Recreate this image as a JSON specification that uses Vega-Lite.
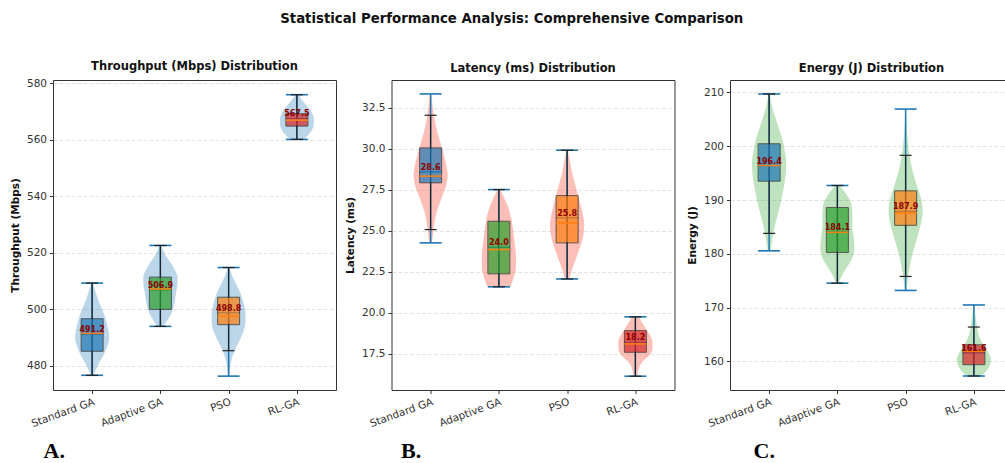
{
  "$schema": "https://vega.github.io/schema/vega-lite/v6.json",
  "background": "white",
  "padding": {"left": 9, "top": 11, "right": 0, "bottom": 14},
  "title": {"text": "Statistical Performance Analysis: Comprehensive Comparison", "fontSize": 13.3, "fontWeight": "bold", "font": "DejaVu Sans", "color": "#111", "offset": 35, "anchor": "middle"},
  "spacing": 55.5,
  "bounds": "flush",
  "datasets": {
    "tpV": [
      {"g":1,"v":476.7,"w":0.02},{"g":1,"v":479,"w":0.06},{"g":1,"v":481,"w":0.1},{"g":1,"v":483,"w":0.15},{"g":1,"v":485,"w":0.19},{"g":1,"v":487.5,"w":0.23},{"g":1,"v":490,"w":0.25},{"g":1,"v":492.5,"w":0.24},{"g":1,"v":495,"w":0.215},{"g":1,"v":498,"w":0.18},{"g":1,"v":501,"w":0.13},{"g":1,"v":504,"w":0.08},{"g":1,"v":507,"w":0.04},{"g":1,"v":509.3,"w":0.01},
      {"g":2,"v":494,"w":0.04},{"g":2,"v":496,"w":0.1},{"g":2,"v":498,"w":0.15},{"g":2,"v":500.5,"w":0.19},{"g":2,"v":503,"w":0.21},{"g":2,"v":506,"w":0.23},{"g":2,"v":509,"w":0.25},{"g":2,"v":511.5,"w":0.25},{"g":2,"v":514,"w":0.21},{"g":2,"v":516.5,"w":0.15},{"g":2,"v":519,"w":0.08},{"g":2,"v":521,"w":0.04},{"g":2,"v":522.6,"w":0.01},
      {"g":3,"v":476.4,"w":0.01},{"g":3,"v":479,"w":0.02},{"g":3,"v":482,"w":0.04},{"g":3,"v":485,"w":0.08},{"g":3,"v":488,"w":0.14},{"g":3,"v":491,"w":0.2},{"g":3,"v":494,"w":0.24},{"g":3,"v":497,"w":0.25},{"g":3,"v":500,"w":0.24},{"g":3,"v":503,"w":0.21},{"g":3,"v":506,"w":0.17},{"g":3,"v":509,"w":0.11},{"g":3,"v":512,"w":0.05},{"g":3,"v":514.8,"w":0.01},
      {"g":4,"v":560.1,"w":0.1},{"g":4,"v":561.5,"w":0.16},{"g":4,"v":563,"w":0.21},{"g":4,"v":565,"w":0.245},{"g":4,"v":567,"w":0.25},{"g":4,"v":569,"w":0.23},{"g":4,"v":571,"w":0.18},{"g":4,"v":573,"w":0.11},{"g":4,"v":574.5,"w":0.06},{"g":4,"v":575.9,"w":0.03}
    ],
    "tpS": [
      {"g":1,"name":"Standard GA","vmin":476.7,"vmax":509.3,"wlo":476.7,"whi":509.3,"q1":485.2,"q3":496.7,"med":491.5,"mean":491.2},
      {"g":2,"name":"Adaptive GA","vmin":494.0,"vmax":522.6,"wlo":494.0,"whi":522.6,"q1":500.0,"q3":511.4,"med":507.2,"mean":506.9},
      {"g":3,"name":"PSO","vmin":476.4,"vmax":514.8,"wlo":485.4,"whi":514.8,"q1":494.6,"q3":504.3,"med":497.6,"mean":498.8},
      {"g":4,"name":"RL-GA","vmin":560.1,"vmax":575.9,"wlo":560.1,"whi":575.9,"q1":564.8,"q3":569.2,"med":566.9,"mean":567.5}
    ],
    "latV": [
      {"g":1,"v":24.27,"w":0.02},{"g":1,"v":25,"w":0.04},{"g":1,"v":26,"w":0.08},{"g":1,"v":27,"w":0.16},{"g":1,"v":27.8,"w":0.23},{"g":1,"v":28.4,"w":0.25},{"g":1,"v":29,"w":0.23},{"g":1,"v":30,"w":0.17},{"g":1,"v":31,"w":0.1},{"g":1,"v":32,"w":0.05},{"g":1,"v":33.35,"w":0.01},
      {"g":2,"v":21.59,"w":0.17},{"g":2,"v":22.2,"w":0.22},{"g":2,"v":22.8,"w":0.25},{"g":2,"v":23.5,"w":0.25},{"g":2,"v":24.3,"w":0.23},{"g":2,"v":25,"w":0.21},{"g":2,"v":25.8,"w":0.18},{"g":2,"v":26.4,"w":0.14},{"g":2,"v":27,"w":0.08},{"g":2,"v":27.52,"w":0.02},
      {"g":3,"v":22.07,"w":0.03},{"g":3,"v":22.5,"w":0.06},{"g":3,"v":23.2,"w":0.12},{"g":3,"v":24,"w":0.19},{"g":3,"v":24.8,"w":0.24},{"g":3,"v":25.4,"w":0.25},{"g":3,"v":26.2,"w":0.22},{"g":3,"v":27,"w":0.17},{"g":3,"v":27.8,"w":0.12},{"g":3,"v":28.6,"w":0.07},{"g":3,"v":29.3,"w":0.04},{"g":3,"v":29.92,"w":0.01},
      {"g":4,"v":16.14,"w":0.03},{"g":4,"v":16.6,"w":0.05},{"g":4,"v":17,"w":0.1},{"g":4,"v":17.4,"w":0.2},{"g":4,"v":17.8,"w":0.25},{"g":4,"v":18.2,"w":0.25},{"g":4,"v":18.6,"w":0.22},{"g":4,"v":19,"w":0.16},{"g":4,"v":19.4,"w":0.1},{"g":4,"v":19.76,"w":0.05}
    ],
    "latS": [
      {"g":1,"name":"Standard GA","vmin":24.27,"vmax":33.35,"wlo":25.08,"whi":32.05,"q1":27.93,"q3":30.06,"med":28.34,"mean":28.6},
      {"g":2,"name":"Adaptive GA","vmin":21.59,"vmax":27.52,"wlo":21.59,"whi":27.52,"q1":22.38,"q3":25.59,"med":23.86,"mean":24.0},
      {"g":3,"name":"PSO","vmin":22.07,"vmax":29.92,"wlo":22.07,"whi":29.92,"q1":24.27,"q3":27.15,"med":25.49,"mean":25.8},
      {"g":4,"name":"RL-GA","vmin":16.14,"vmax":19.76,"wlo":16.14,"whi":19.76,"q1":17.6,"q3":18.92,"med":18.11,"mean":18.2}
    ],
    "enV": [
      {"g":1,"v":180.56,"w":0.02},{"g":1,"v":183,"w":0.05},{"g":1,"v":186,"w":0.1},{"g":1,"v":189,"w":0.16},{"g":1,"v":192,"w":0.21},{"g":1,"v":195,"w":0.245},{"g":1,"v":197,"w":0.25},{"g":1,"v":199,"w":0.23},{"g":1,"v":201,"w":0.2},{"g":1,"v":203,"w":0.15},{"g":1,"v":205,"w":0.1},{"g":1,"v":207,"w":0.05},{"g":1,"v":209.7,"w":0.01},
      {"g":2,"v":174.55,"w":0.02},{"g":2,"v":176,"w":0.07},{"g":2,"v":177.5,"w":0.14},{"g":2,"v":179,"w":0.21},{"g":2,"v":181,"w":0.25},{"g":2,"v":183,"w":0.24},{"g":2,"v":185,"w":0.22},{"g":2,"v":187,"w":0.22},{"g":2,"v":189,"w":0.21},{"g":2,"v":190.5,"w":0.16},{"g":2,"v":191.8,"w":0.09},{"g":2,"v":192.7,"w":0.03},
      {"g":3,"v":173.2,"w":0.01},{"g":3,"v":175,"w":0.03},{"g":3,"v":177.5,"w":0.06},{"g":3,"v":180,"w":0.1},{"g":3,"v":183,"w":0.17},{"g":3,"v":186,"w":0.23},{"g":3,"v":188,"w":0.25},{"g":3,"v":190,"w":0.23},{"g":3,"v":192.5,"w":0.17},{"g":3,"v":195,"w":0.11},{"g":3,"v":198,"w":0.06},{"g":3,"v":201,"w":0.03},{"g":3,"v":204,"w":0.015},{"g":3,"v":206.9,"w":0.005},
      {"g":4,"v":157.3,"w":0.1},{"g":4,"v":158.2,"w":0.18},{"g":4,"v":159.2,"w":0.23},{"g":4,"v":160.3,"w":0.25},{"g":4,"v":161.5,"w":0.22},{"g":4,"v":162.7,"w":0.16},{"g":4,"v":164,"w":0.1},{"g":4,"v":165.5,"w":0.06},{"g":4,"v":167,"w":0.04},{"g":4,"v":168.8,"w":0.02},{"g":4,"v":170.5,"w":0.01}
    ],
    "enS": [
      {"g":1,"name":"Standard GA","vmin":180.56,"vmax":209.7,"wlo":183.8,"whi":209.7,"q1":193.5,"q3":200.45,"med":196.4,"mean":196.4},
      {"g":2,"name":"Adaptive GA","vmin":174.55,"vmax":192.7,"wlo":174.55,"whi":192.7,"q1":180.26,"q3":188.6,"med":184.0,"mean":184.1},
      {"g":3,"name":"PSO","vmin":173.2,"vmax":206.9,"wlo":175.8,"whi":198.3,"q1":185.3,"q3":191.7,"med":187.56,"mean":187.9},
      {"g":4,"name":"RL-GA","vmin":157.3,"vmax":170.5,"wlo":157.3,"whi":166.4,"q1":159.4,"q3":163.1,"med":161.9,"mean":161.6}
    ]
  },
  "hconcat": [
    {
      "width": 283, "height": 310,
      "title": {"text": "Throughput (Mbps) Distribution"},
      "layer": [
        {"data": {"name": "tpV"},
         "transform": [{"calculate": "datum.g - datum.w", "as": "lo"}, {"calculate": "datum.g + datum.w", "as": "hi"}],
         "mark": {"type": "area", "orient": "horizontal", "color": "#1f77b4", "opacity": 0.3, "interpolate": "monotone"},
         "encoding": {
           "y": {"field": "v", "type": "quantitative", "scale": {"domain": [471.5, 581.1], "nice": false, "zero": false}, "axis": {"values": [480,500,520,540,560,580], "title": "Throughput (Mbps)"}},
           "x": {"field": "lo", "type": "quantitative", "scale": {"domain": [0.5, 4.5], "nice": false, "zero": false}, "axis": {"values": [1,2,3,4], "labelExpr": "datum.value == 1 ? 'Standard GA' : datum.value == 2 ? 'Adaptive GA' : datum.value == 3 ? 'PSO' : 'RL-GA'", "title": "A.", "titleX": -10}},
           "x2": {"field": "hi"},
           "detail": {"field": "g", "type": "nominal"}
         }},
        {"data": {"name": "tpS"}, "mark": {"type": "rule", "color": "#1f77b4", "strokeWidth": 1.5},
         "encoding": {"x": {"field": "g", "type": "quantitative"}, "y": {"field": "vmin", "type": "quantitative"}, "y2": {"field": "vmax"}}},
        {"data": {"name": "tpS"}, "mark": {"type": "tick", "orient": "horizontal", "color": "#1f77b4", "size": 22, "thickness": 1.6, "opacity": 1},
         "encoding": {"x": {"field": "g", "type": "quantitative"}, "y": {"field": "vmin", "type": "quantitative"}}},
        {"data": {"name": "tpS"}, "mark": {"type": "tick", "orient": "horizontal", "color": "#1f77b4", "size": 22, "thickness": 1.6, "opacity": 1},
         "encoding": {"x": {"field": "g", "type": "quantitative"}, "y": {"field": "vmax", "type": "quantitative"}}},
        {"data": {"name": "tpS"}, "mark": {"type": "tick", "orient": "horizontal", "color": "#1f77b4", "size": 22, "thickness": 1.4, "opacity": 1},
         "encoding": {"x": {"field": "g", "type": "quantitative"}, "y": {"field": "mean", "type": "quantitative"}}},
        {"data": {"name": "tpS"}, "mark": {"type": "rule", "color": "#222", "strokeWidth": 1.2},
         "encoding": {"x": {"field": "g", "type": "quantitative"}, "y": {"field": "wlo", "type": "quantitative"}, "y2": {"field": "whi"}}},
        {"data": {"name": "tpS"}, "mark": {"type": "tick", "orient": "horizontal", "color": "#222", "size": 12, "thickness": 1.2, "opacity": 1},
         "encoding": {"x": {"field": "g", "type": "quantitative"}, "y": {"field": "wlo", "type": "quantitative"}}},
        {"data": {"name": "tpS"}, "mark": {"type": "tick", "orient": "horizontal", "color": "#222", "size": 12, "thickness": 1.2, "opacity": 1},
         "encoding": {"x": {"field": "g", "type": "quantitative"}, "y": {"field": "whi", "type": "quantitative"}}},
        {"data": {"name": "tpS"}, "mark": {"type": "bar", "width": 22, "opacity": 0.7, "stroke": "#222", "strokeWidth": 1},
         "encoding": {"x": {"field": "g", "type": "quantitative"}, "y": {"field": "q1", "type": "quantitative"}, "y2": {"field": "q3"},
           "color": {"field": "name", "type": "nominal", "scale": {"domain": ["Standard GA","Adaptive GA","PSO","RL-GA"], "range": ["#1f77b4","#2ca02c","#ff7f0e","#d62728"]}, "legend": null}}},
        {"data": {"name": "tpS"}, "mark": {"type": "tick", "orient": "horizontal", "color": "#ff7f0e", "size": 22, "thickness": 1.5, "opacity": 1},
         "encoding": {"x": {"field": "g", "type": "quantitative"}, "y": {"field": "med", "type": "quantitative"}}},
        {"data": {"name": "tpS"}, "mark": {"type": "text", "color": "#8b0000", "fontSize": 8, "fontWeight": "bold", "baseline": "bottom", "align": "center"},
         "encoding": {"x": {"field": "g", "type": "quantitative"}, "y": {"field": "mean", "type": "quantitative"}, "text": {"field": "mean", "type": "quantitative", "format": ".1f"}}}
      ]
    },
    {
      "width": 283, "height": 310,
      "title": {"text": "Latency (ms) Distribution"},
      "layer": [
        {"data": {"name": "latV"},
         "transform": [{"calculate": "datum.g - datum.w", "as": "lo"}, {"calculate": "datum.g + datum.w", "as": "hi"}],
         "mark": {"type": "area", "orient": "horizontal", "color": "#fa8072", "opacity": 0.5, "interpolate": "monotone"},
         "encoding": {
           "y": {"field": "v", "type": "quantitative", "scale": {"domain": [15.3, 34.2], "nice": false, "zero": false}, "axis": {"values": [17.5,20,22.5,25,27.5,30,32.5], "format": ".1f", "title": "Latency (ms)"}},
           "x": {"field": "lo", "type": "quantitative", "scale": {"domain": [0.5, 4.5], "nice": false, "zero": false}, "axis": {"values": [1,2,3,4], "labelExpr": "datum.value == 1 ? 'Standard GA' : datum.value == 2 ? 'Adaptive GA' : datum.value == 3 ? 'PSO' : 'RL-GA'", "title": "B.", "titleX": 9}},
           "x2": {"field": "hi"},
           "detail": {"field": "g", "type": "nominal"}
         }},
        {"data": {"name": "latS"}, "mark": {"type": "rule", "color": "#1f77b4", "strokeWidth": 1.5},
         "encoding": {"x": {"field": "g", "type": "quantitative"}, "y": {"field": "vmin", "type": "quantitative"}, "y2": {"field": "vmax"}}},
        {"data": {"name": "latS"}, "mark": {"type": "tick", "orient": "horizontal", "color": "#1f77b4", "size": 22, "thickness": 1.6, "opacity": 1},
         "encoding": {"x": {"field": "g", "type": "quantitative"}, "y": {"field": "vmin", "type": "quantitative"}}},
        {"data": {"name": "latS"}, "mark": {"type": "tick", "orient": "horizontal", "color": "#1f77b4", "size": 22, "thickness": 1.6, "opacity": 1},
         "encoding": {"x": {"field": "g", "type": "quantitative"}, "y": {"field": "vmax", "type": "quantitative"}}},
        {"data": {"name": "latS"}, "mark": {"type": "tick", "orient": "horizontal", "color": "#1f77b4", "size": 22, "thickness": 1.4, "opacity": 1},
         "encoding": {"x": {"field": "g", "type": "quantitative"}, "y": {"field": "mean", "type": "quantitative"}}},
        {"data": {"name": "latS"}, "mark": {"type": "rule", "color": "#222", "strokeWidth": 1.2},
         "encoding": {"x": {"field": "g", "type": "quantitative"}, "y": {"field": "wlo", "type": "quantitative"}, "y2": {"field": "whi"}}},
        {"data": {"name": "latS"}, "mark": {"type": "tick", "orient": "horizontal", "color": "#222", "size": 12, "thickness": 1.2, "opacity": 1},
         "encoding": {"x": {"field": "g", "type": "quantitative"}, "y": {"field": "wlo", "type": "quantitative"}}},
        {"data": {"name": "latS"}, "mark": {"type": "tick", "orient": "horizontal", "color": "#222", "size": 12, "thickness": 1.2, "opacity": 1},
         "encoding": {"x": {"field": "g", "type": "quantitative"}, "y": {"field": "whi", "type": "quantitative"}}},
        {"data": {"name": "latS"}, "mark": {"type": "bar", "width": 22, "opacity": 0.7, "stroke": "#222", "strokeWidth": 1},
         "encoding": {"x": {"field": "g", "type": "quantitative"}, "y": {"field": "q1", "type": "quantitative"}, "y2": {"field": "q3"},
           "color": {"field": "name", "type": "nominal", "scale": {"domain": ["Standard GA","Adaptive GA","PSO","RL-GA"], "range": ["#1f77b4","#2ca02c","#ff7f0e","#d62728"]}, "legend": null}}},
        {"data": {"name": "latS"}, "mark": {"type": "tick", "orient": "horizontal", "color": "#ff7f0e", "size": 22, "thickness": 1.5, "opacity": 1},
         "encoding": {"x": {"field": "g", "type": "quantitative"}, "y": {"field": "med", "type": "quantitative"}}},
        {"data": {"name": "latS"}, "mark": {"type": "text", "color": "#8b0000", "fontSize": 8, "fontWeight": "bold", "baseline": "bottom", "align": "center"},
         "encoding": {"x": {"field": "g", "type": "quantitative"}, "y": {"field": "mean", "type": "quantitative"}, "text": {"field": "mean", "type": "quantitative", "format": ".1f"}}}
      ]
    },
    {
      "width": 283, "height": 310,
      "title": {"text": "Energy (J) Distribution"},
      "layer": [
        {"data": {"name": "enV"},
         "transform": [{"calculate": "datum.g - datum.w", "as": "lo"}, {"calculate": "datum.g + datum.w", "as": "hi"}],
         "mark": {"type": "area", "orient": "horizontal", "color": "#2ca02c", "opacity": 0.3, "interpolate": "monotone"},
         "encoding": {
           "y": {"field": "v", "type": "quantitative", "scale": {"domain": [154.7, 212.3], "nice": false, "zero": false}, "axis": {"values": [160,170,180,190,200,210], "title": "Energy (J)"}},
           "x": {"field": "lo", "type": "quantitative", "scale": {"domain": [0.5, 4.5], "nice": false, "zero": false}, "axis": {"values": [1,2,3,4], "labelExpr": "datum.value == 1 ? 'Standard GA' : datum.value == 2 ? 'Adaptive GA' : datum.value == 3 ? 'PSO' : 'RL-GA'", "title": "C.", "titleX": 23}},
           "x2": {"field": "hi"},
           "detail": {"field": "g", "type": "nominal"}
         }},
        {"data": {"name": "enS"}, "mark": {"type": "rule", "color": "#1f77b4", "strokeWidth": 1.5},
         "encoding": {"x": {"field": "g", "type": "quantitative"}, "y": {"field": "vmin", "type": "quantitative"}, "y2": {"field": "vmax"}}},
        {"data": {"name": "enS"}, "mark": {"type": "tick", "orient": "horizontal", "color": "#1f77b4", "size": 22, "thickness": 1.6, "opacity": 1},
         "encoding": {"x": {"field": "g", "type": "quantitative"}, "y": {"field": "vmin", "type": "quantitative"}}},
        {"data": {"name": "enS"}, "mark": {"type": "tick", "orient": "horizontal", "color": "#1f77b4", "size": 22, "thickness": 1.6, "opacity": 1},
         "encoding": {"x": {"field": "g", "type": "quantitative"}, "y": {"field": "vmax", "type": "quantitative"}}},
        {"data": {"name": "enS"}, "mark": {"type": "tick", "orient": "horizontal", "color": "#1f77b4", "size": 22, "thickness": 1.4, "opacity": 1},
         "encoding": {"x": {"field": "g", "type": "quantitative"}, "y": {"field": "mean", "type": "quantitative"}}},
        {"data": {"name": "enS"}, "mark": {"type": "rule", "color": "#222", "strokeWidth": 1.2},
         "encoding": {"x": {"field": "g", "type": "quantitative"}, "y": {"field": "wlo", "type": "quantitative"}, "y2": {"field": "whi"}}},
        {"data": {"name": "enS"}, "mark": {"type": "tick", "orient": "horizontal", "color": "#222", "size": 12, "thickness": 1.2, "opacity": 1},
         "encoding": {"x": {"field": "g", "type": "quantitative"}, "y": {"field": "wlo", "type": "quantitative"}}},
        {"data": {"name": "enS"}, "mark": {"type": "tick", "orient": "horizontal", "color": "#222", "size": 12, "thickness": 1.2, "opacity": 1},
         "encoding": {"x": {"field": "g", "type": "quantitative"}, "y": {"field": "whi", "type": "quantitative"}}},
        {"data": {"name": "enS"}, "mark": {"type": "bar", "width": 22, "opacity": 0.7, "stroke": "#222", "strokeWidth": 1},
         "encoding": {"x": {"field": "g", "type": "quantitative"}, "y": {"field": "q1", "type": "quantitative"}, "y2": {"field": "q3"},
           "color": {"field": "name", "type": "nominal", "scale": {"domain": ["Standard GA","Adaptive GA","PSO","RL-GA"], "range": ["#1f77b4","#2ca02c","#ff7f0e","#d62728"]}, "legend": null}}},
        {"data": {"name": "enS"}, "mark": {"type": "tick", "orient": "horizontal", "color": "#ff7f0e", "size": 22, "thickness": 1.5, "opacity": 1},
         "encoding": {"x": {"field": "g", "type": "quantitative"}, "y": {"field": "med", "type": "quantitative"}}},
        {"data": {"name": "enS"}, "mark": {"type": "text", "color": "#8b0000", "fontSize": 8, "fontWeight": "bold", "baseline": "bottom", "align": "center"},
         "encoding": {"x": {"field": "g", "type": "quantitative"}, "y": {"field": "mean", "type": "quantitative"}, "text": {"field": "mean", "type": "quantitative", "format": ".1f"}}}
      ]
    }
  ],
  "config": {
    "font": "DejaVu Sans",
    "view": {"stroke": "#333", "strokeWidth": 1},
    "title": {"font": "DejaVu Sans", "fontSize": 11.5, "fontWeight": "bold", "color": "#111", "offset": 6},
    "axis": {"labelFont": "DejaVu Sans", "labelFontSize": 10.5, "labelColor": "#333", "titleFont": "DejaVu Sans", "titleFontSize": 10.5, "titleFontWeight": "bold", "titleColor": "#111", "tickColor": "#333", "tickSize": 3.5, "domain": false, "grid": false},
    "axisY": {"grid": true, "gridDash": [4, 2], "gridColor": "#b0b0b0", "gridOpacity": 0.35, "titlePadding": 6, "labelPadding": 3},
    "axisX": {"labelAngle": -20, "labelAlign": "right", "labelBaseline": "top", "labelPadding": 3, "titleFont": "Liberation Serif", "titleFontSize": 22, "titleFontWeight": "bold", "titleColor": "#000", "titleAnchor": "start", "titleAlign": "left", "titleY": 72, "titleBaseline": "bottom"}
  }
}
